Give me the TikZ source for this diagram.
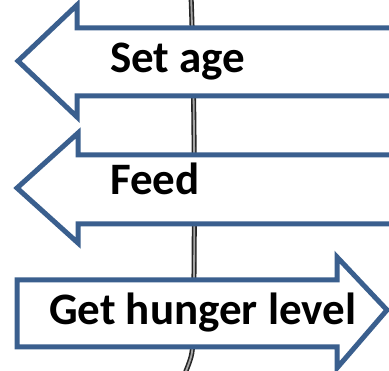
\documentclass[tikz,border=0pt]{standalone}
\usepackage{fontspec}
\setmainfont{Carlito}
\definecolor{arrowblue}{HTML}{3A5F8E}
\begin{document}
\begin{tikzpicture}[x=1pt,y=-1pt,
  arrowbox/.style={draw=arrowblue, fill=white, line width=5pt, line join=miter},
  lifeline/.style={draw=black!85, double=black!35, line width=1.6pt, double distance=1.8pt},
  lbl/.style={font=\bfseries\fontsize{45}{52}\selectfont, inner sep=0pt, anchor=base west, text=black}]
\useasboundingbox (0,0) rectangle (389,371);
\clip (0,0) rectangle (389,371);
\coordinate (ltop) at (191,-5);
\coordinate (lbot) at (184,376);
\draw[lifeline] (ltop) .. controls (195,100) and (195,250) .. (193,340) .. controls (192,356) .. (lbot);
\draw[arrowbox] (18,61) -- (77,5) -- (77,28) -- (400,28) -- (400,96) -- (77,96) -- (77,117) -- cycle;
\draw[arrowbox] (17,188) -- (78,133) -- (78,155) -- (400,155) -- (400,224) -- (78,224) -- (78,243) -- cycle;
\draw[arrowbox] (17,280) -- (337,280) -- (337,257) -- (387,310) -- (337,368) -- (337,347) -- (17,347) -- cycle;
\node[lbl] (setage) at (110,73) {Set age};
\node[lbl] (feed) at (110,195) {Feed};
\node[lbl] (hunger) at (49,325) {Get hunger level};
\end{tikzpicture}
\end{document}
